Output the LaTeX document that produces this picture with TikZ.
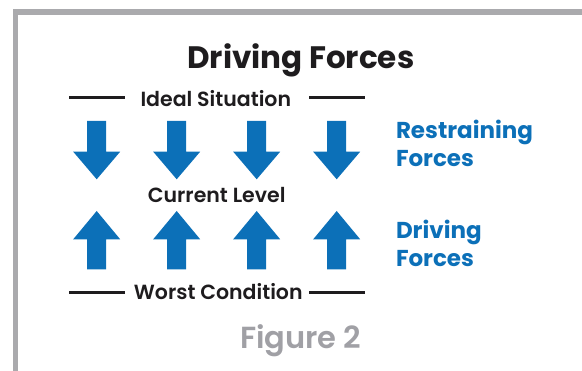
\documentclass[tikz,border=0pt]{standalone}
\usepackage{fontspec}
\setmainfont{Poppins}
\newfontfamily\semifont{Poppins SemiBold}
\usetikzlibrary{positioning}

\definecolor{forceblue}{RGB}{12,112,184}
\definecolor{framegray}{RGB}{170,170,173}
\definecolor{captiongray}{RGB}{160,160,165}
\definecolor{inkblack}{RGB}{30,28,30}

\tikzset{
  downforce/.pic={\fill[forceblue] (-9.5,0) -- (9.5,0) -- (9.5,30.7) -- (23.5,30.7) -- (0,58.3) -- (-23.5,30.7) -- (-9.5,30.7) -- cycle;},
  upforce/.pic={\fill[forceblue] (0,0) -- (23.5,28.3) -- (9.5,28.3) -- (9.5,58.3) -- (-9.5,58.3) -- (-9.5,28.3) -- (-23.5,28.3) -- cycle;}
}

\begin{document}
\begin{tikzpicture}
[x=1pt,y=-1pt,
 every node/.style={inner sep=0pt,outer sep=0pt},
 title/.style={anchor=base,font=\fontsize{31}{31}\selectfont\bfseries,text=inkblack},
 level/.style={anchor=base,font=\fontsize{20.5}{20.5}\semifont,text=inkblack},
 side/.style={anchor=base west,align=left,font=\fontsize{23}{28}\selectfont\bfseries,text=forceblue},
 caption/.style={anchor=base,font=\fontsize{30.5}{30.5}\semifont,text=captiongray},
 rule/.style={draw=inkblack,line width=3pt}]
\useasboundingbox (0,0) rectangle (582,371);
\draw[framegray,line width=5.5pt] (15.5,371) -- (15.5,12) -- (582,12);
\node[title]   (head)  at (300.8,68.3) {Driving Forces};
\node[level]   (ideal) at (215.8,106.7) {Ideal Situation};
\node[level]   (now)   at (216.7,202.7) {Current Level};
\node[level]   (worst) at (218.3,300) {Worst Condition};
\node[side]    (restr) at (396,166.5) {Restraining\\Forces};
\node[side]    (drive) at (396,267) {Driving\\Forces};
\node[caption] (fig)   at (300.8,349) {Figure 2};
\coordinate (iL) at (69,98);   \coordinate (iLe) at (125,98);
\coordinate (iR) at (309,98);  \coordinate (iRe) at (365,98);
\coordinate (wL) at (69,292.7);  \coordinate (wLe) at (125,292.7);
\coordinate (wR) at (309,292.7); \coordinate (wRe) at (365,292.7);
\draw[rule] (iL) -- (iLe);
\draw[rule] (iR) -- (iRe);
\draw[rule] (wL) -- (wLe);
\draw[rule] (wR) -- (wRe);
\foreach \x in {96.7,176.7,256.7,336.7}
  {\pic at (\x,121) {downforce};
   \pic at (\x,211) {upforce};}
\end{tikzpicture}
\end{document}
